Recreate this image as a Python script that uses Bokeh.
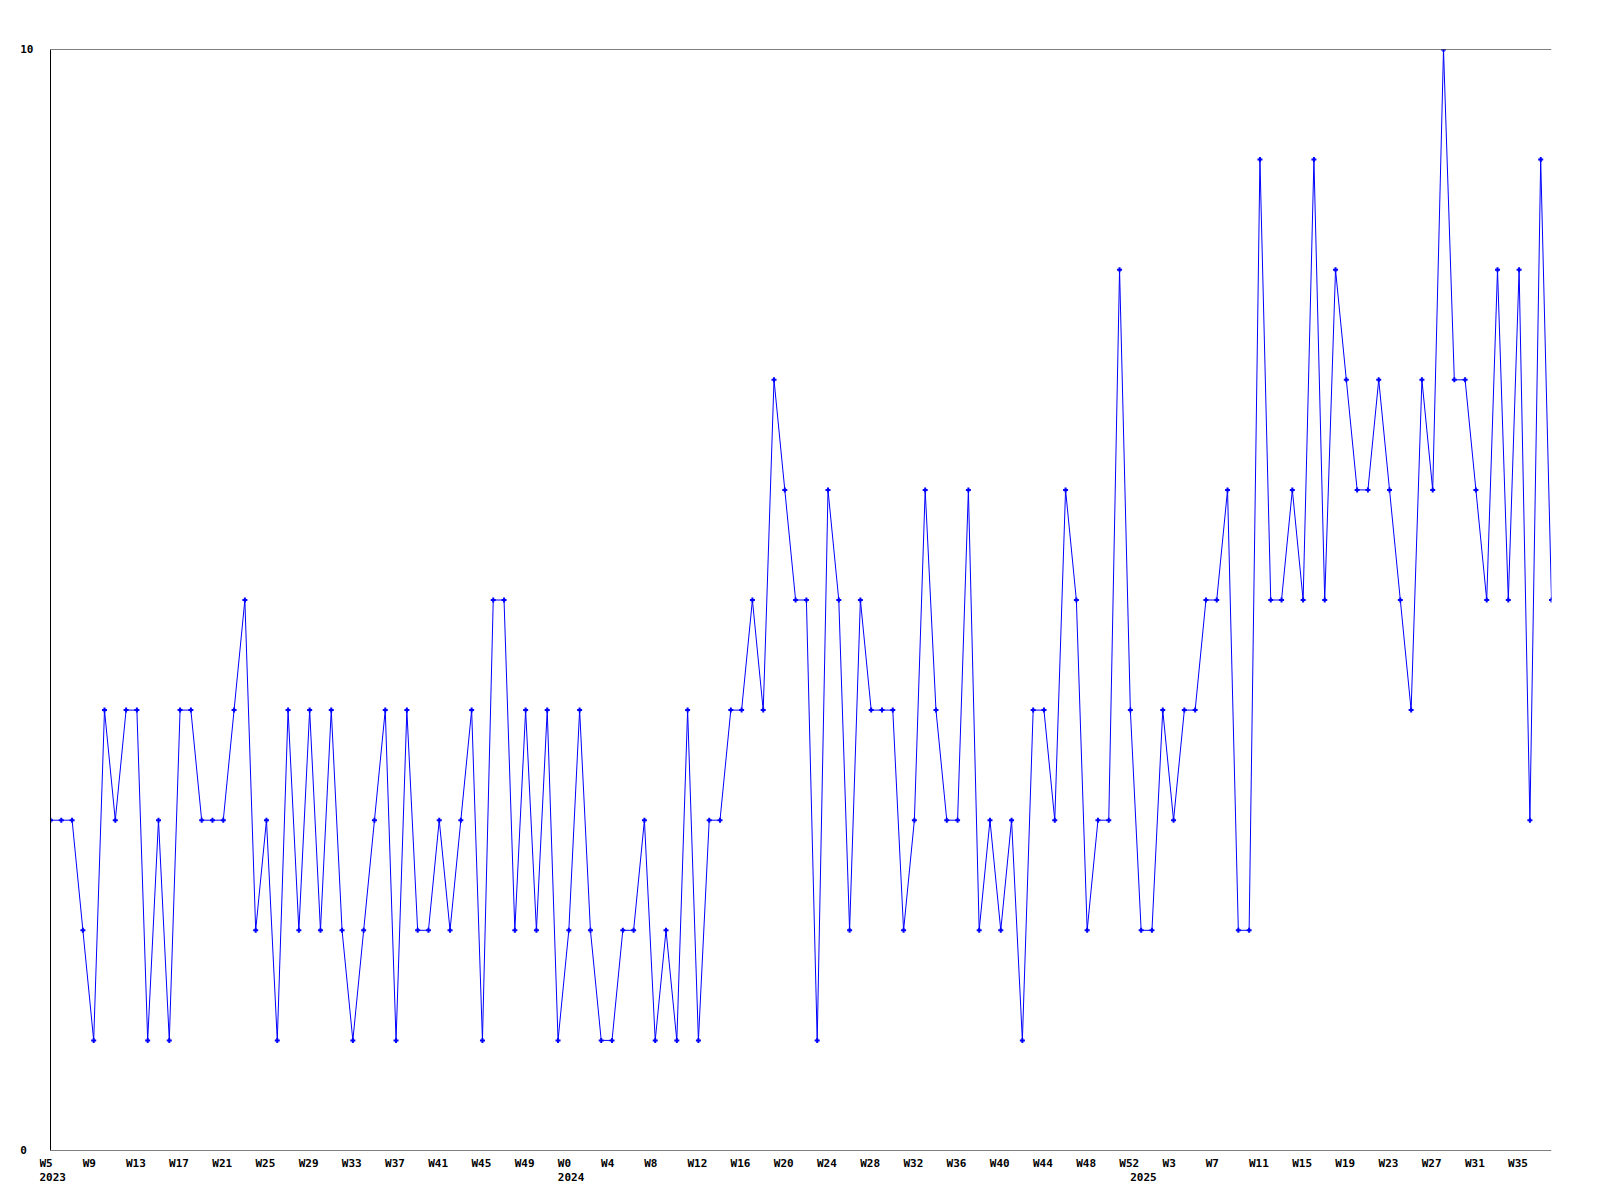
from bokeh.plotting import figure
from bokeh.models import Range1d, FixedTicker, ColumnDataSource, Span
from bokeh.core.properties import value
from bokeh.embed import file_html
from bokeh.resources import INLINE

# weekly counts, 2023 W5 .. 2025 W38
values = [
    3, 3, 3, 2, 1, 4, 3, 4, 4, 1, 3, 1, 4, 4, 3, 3, 3, 4, 5, 2,
    3, 1, 4, 2, 4, 2, 4, 2, 1, 2, 3, 4, 1, 4, 2, 2, 3, 2, 3, 4,
    1, 5, 5, 2, 4, 2, 4, 1, 2, 4, 2, 1, 1, 2, 2, 3, 1, 2, 1, 4,
    1, 3, 3, 4, 4, 5, 4, 7, 6, 5, 5, 1, 6, 5, 2, 5, 4, 4, 4, 2,
    3, 6, 4, 3, 3, 6, 2, 3, 2, 3, 1, 4, 4, 3, 6, 5, 2, 3, 3, 8,
    4, 2, 2, 4, 3, 4, 4, 5, 5, 6, 2, 2, 9, 5, 5, 6, 5, 9, 5, 8,
    7, 6, 6, 7, 6, 5, 4, 7, 6, 10, 7, 7, 6, 5, 8, 5, 8, 3, 9, 5,
]

tick_labels = [
    "W5", "W9", "W13", "W17", "W21", "W25", "W29", "W33", "W37", "W41", "W45", "W49",
    "W0", "W4", "W8", "W12", "W16", "W20", "W24", "W28", "W32", "W36", "W40", "W44", "W48", "W52",
    "W3", "W7", "W11", "W15", "W19", "W23", "W27", "W31", "W35",
]
year_labels = ["2023", "2024", "2025"]
year_week_index = [0, 48, 101]  # position of the first week of each year
y_ticks = [0, 10]

x = list(range(len(values)))
tick_pos = list(range(0, len(values), 4))[:len(tick_labels)]

FONT = "DejaVu Sans Mono"
W = 1571
LEFT, RIGHT = 50, 20
FRAME_W = W - LEFT - RIGHT
PX_PER_WEEK = FRAME_W / (len(values) - 1)
LABEL_SHIFT = 11  # labels start this many px left of their week

# ---- main chart ----
p = figure(width=W, height=1156, output_backend="svg", toolbar_location=None,
           x_range=Range1d(0, len(values) - 1), y_range=Range1d(0, 10),
           x_axis_location=None,
           min_border_left=LEFT, min_border_top=49, min_border_right=RIGHT, min_border_bottom=6)
p.outline_line_color = None
p.grid.visible = False
p.background_fill_color = "white"
p.border_fill_color = "white"

p.line(x, values, line_color="#0000ff", line_width=1)
p.scatter(x, values, marker="cross", size=5, line_color="#0000ff", line_width=2)

# top and bottom frame lines
p.add_layout(Span(location=10, dimension="width", line_color="black", line_width=1))
p.add_layout(Span(location=0, dimension="width", line_color="black", line_width=1))

ya = p.yaxis[0]
ya.ticker = FixedTicker(ticks=y_ticks)
# labels are left-aligned in the original: pad the short one with a figure space
ya.major_label_overrides = {0: "0\u2007", 10: "10"}
ya.axis_line_color = "black"
ya.axis_line_width = 1
ya.major_tick_line_color = None
ya.minor_tick_line_color = None
ya.major_tick_out = 0
ya.major_tick_in = 0
ya.major_label_standoff = 17
ya.major_label_text_font = FONT
ya.major_label_text_font_style = "bold"
ya.major_label_text_font_size = "11px"
ya.major_label_text_color = "black"

# ---- week / year labels strip: same px per week, frame starts LABEL_SHIFT px earlier,
# so each label's left edge sits LABEL_SHIFT px left of its week in the chart ----
q_left = LEFT - LABEL_SHIFT
q = figure(width=W, height=44, output_backend="svg", toolbar_location=None,
           x_range=Range1d(0, len(values) - 1 + LABEL_SHIFT / PX_PER_WEEK), y_range=Range1d(0, 44),
           x_axis_location=None, y_axis_location=None,
           min_border_left=q_left, min_border_top=0, min_border_right=RIGHT, min_border_bottom=0)
q.outline_line_color = None
q.grid.visible = False
q.background_fill_color = "white"
q.border_fill_color = "white"

wk_src = ColumnDataSource(dict(x=tick_pos, y=[44] * len(tick_pos), text=tick_labels))
q.text(x="x", y="y", text="text", source=wk_src,
       text_align="left", text_baseline="top",
       text_font=value(FONT), text_font_style="bold", text_font_size="11px",
       text_color="black")
yr_src = ColumnDataSource(dict(x=year_week_index, y=[28] * len(year_week_index), text=year_labels))
q.text(x="x", y="y", text="text", source=yr_src,
       text_align="left", text_baseline="top",
       text_font=value(FONT), text_font_style="bold", text_font_size="11px",
       text_color="black")

# two separate roots (no frame alignment between them), stacked on the page
open("out.html", "w").write(file_html([p, q], INLINE))
